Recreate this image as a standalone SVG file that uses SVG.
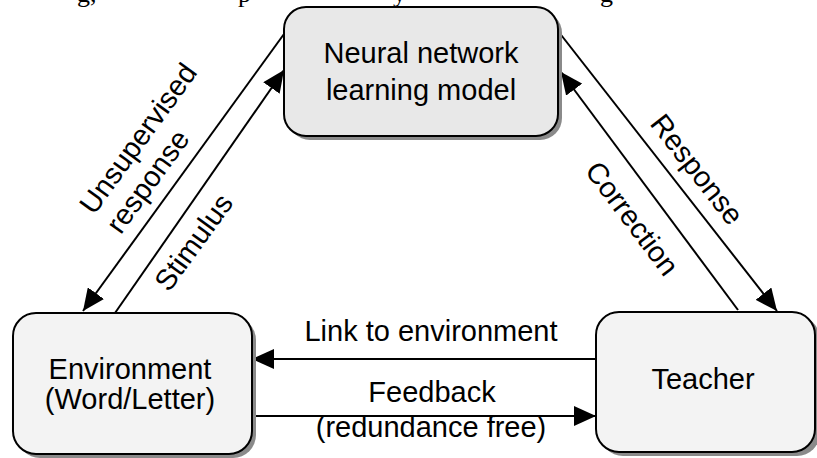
<svg xmlns="http://www.w3.org/2000/svg" width="817" height="458" viewBox="0 0 817 458">
<style>
.box{stroke:#000;stroke-width:2}
.shadow{fill:#8a8a8a}
.t{font-family:"Liberation Sans",Arial,sans-serif;font-size:29px;fill:#000}
.c{text-anchor:middle}
.frag{font-family:"Liberation Serif","Times New Roman",serif;font-size:26px;fill:#000}
.conn{stroke:#000;stroke-width:2;fill:none}
</style>
<defs>
<marker id="arrow" markerUnits="userSpaceOnUse" markerWidth="22" markerHeight="20" refX="22" refY="10" orient="auto">
<path d="M0,0 L22,10 L0,20 z" fill="#000"/>
</marker>
</defs>
<g id="fragments">
<text class="frag" x="77" y="2">g,</text>
<text class="frag" x="238" y="2">p</text>
<text class="frag" x="393" y="2">y</text>
<text class="frag" x="600" y="2">g</text>
</g>
<g id="connectors">
<line class="conn" x1="284" y1="34" x2="83" y2="311" marker-end="url(#arrow)"/>
<line class="conn" x1="115" y1="313" x2="284" y2="70" marker-end="url(#arrow)"/>
<line class="conn" x1="558" y1="31" x2="777" y2="311" marker-end="url(#arrow)"/>
<line class="conn" x1="738" y1="310" x2="561" y2="72" marker-end="url(#arrow)"/>
<line class="conn" x1="596" y1="359" x2="252" y2="359" marker-end="url(#arrow)"/>
<line class="conn" x1="252" y1="416" x2="596" y2="416" marker-end="url(#arrow)"/>
<g transform="translate(94,216) rotate(-54)">
<text class="t" x="0" y="0">Unsupervised</text>
<text class="t" x="0" y="33">response</text>
</g>
<text class="t" transform="translate(169,293) rotate(-54)">Stimulus</text>
<text class="t" transform="translate(649,124) rotate(52)">Response</text>
<text class="t" transform="translate(584,171) rotate(53)">Correction</text>
<text class="t c" x="431" y="341">Link to environment</text>
<text class="t c" x="432" y="402">Feedback</text>
<text class="t c" x="431" y="437">(redundance free)</text>
</g>
<g id="neural">
<rect class="shadow" x="288" y="11" width="274" height="129" rx="22"/>
<rect class="box" x="284" y="7" width="274" height="129" rx="22" fill="#e8e8e8"/>
<text class="t c" x="421" y="63">Neural network</text>
<text class="t c" x="421" y="100">learning model</text>
</g>
<g id="environment">
<rect class="shadow" x="17" y="317" width="239" height="141" rx="23"/>
<rect class="box" x="13" y="313" width="239" height="141" rx="23" fill="#f3f3f3"/>
<text class="t c" x="130" y="379">Environment</text>
<text class="t c" x="130" y="409">(Word/Letter)</text>
</g>
<g id="teacher">
<rect class="shadow" x="600" y="316" width="220" height="140" rx="23"/>
<rect class="box" x="596" y="312" width="219" height="140" rx="23" fill="#f3f3f3"/>
<text class="t c" x="703" y="389">Teacher</text>
</g>
</svg>
